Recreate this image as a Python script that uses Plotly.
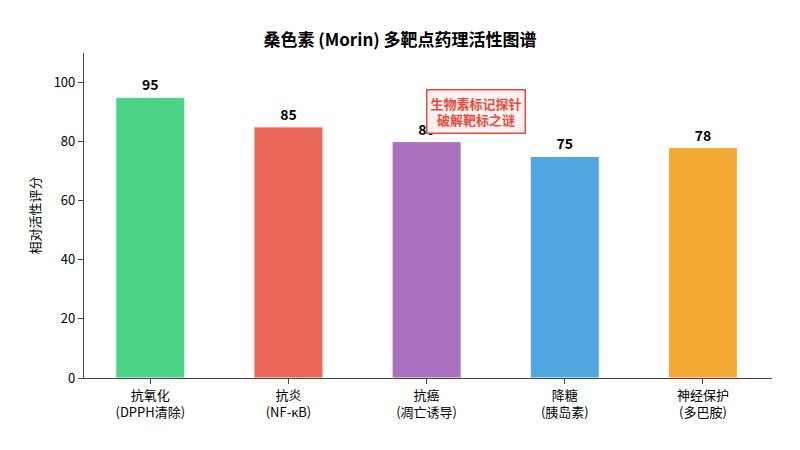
import plotly.graph_objects as go

categories = ["抗氧化<br>(DPPH清除)", "抗炎<br>(NF-κB)", "抗癌<br>(凋亡诱导)", "降糖<br>(胰岛素)", "神经保护<br>(多巴胺)"]
scores = [95, 85, 80, 75, 78]
colors = ["#2ecc71", "#e74c3c", "#9b59b6", "#3498db", "#f39c12"]
y_ticks = [0, 20, 40, 60, 80, 100]

font_family = "Noto Sans CJK SC, Noto Sans, sans-serif"

fig = go.Figure()
fig.add_trace(go.Bar(
    x=list(range(len(categories))),
    y=scores,
    marker=dict(color=colors, opacity=0.85, line=dict(color="white", width=1)),
    width=0.5,
    text=[f"<b>{v}</b>" for v in scores],
    textposition="outside",
    textfont=dict(size=14, color="black", family=font_family),
    cliponaxis=False,
))

fig.add_annotation(
    x=2.355, y=90.3, xref="x", yref="y",
    text="<b>生物素标记探针<br>破解靶标之谜</b>",
    showarrow=False,
    font=dict(size=13, color="#e74c3c", family=font_family),
    align="center",
    bgcolor="#fdf2f1",
    bordercolor="#e74c3c",
    borderwidth=1.5,
    borderpad=3,
)

fig.update_layout(
    width=800, height=450,
    margin=dict(l=84, r=28, t=53, b=72),
    plot_bgcolor="white", paper_bgcolor="white",
    font=dict(family=font_family, size=13, color="black"),
    title=dict(text="<b>桑色素 (Morin) 多靶点药理活性图谱</b>", x=0.5, xanchor="center",
               y=0.911, yanchor="middle", font=dict(size=17, color="black")),
    showlegend=False,
    bargap=0.5,
)
fig.update_xaxes(
    tickmode="array", tickvals=list(range(len(categories))), ticktext=categories,
    range=[-0.48, 4.5], showline=True, linecolor="#444", linewidth=1.2,
    ticks="outside", ticklen=5, tickcolor="#444", showgrid=False, zeroline=False,
    tickfont=dict(size=13),
)
fig.update_yaxes(
    range=[0, 110], tickvals=y_ticks, showline=True, linecolor="#444", linewidth=1.2,
    ticks="outside", ticklen=5, tickcolor="#444", showgrid=False, zeroline=False,
    title=dict(text="相对活性评分", font=dict(size=13), standoff=10),
    tickfont=dict(size=13),
)

fig.write_html("out.html")
